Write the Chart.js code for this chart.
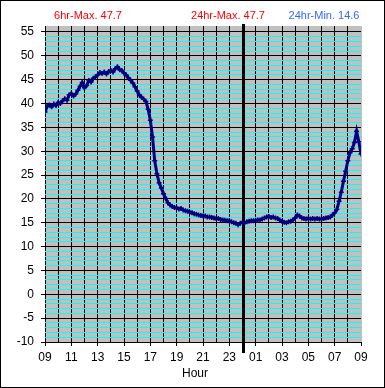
<!DOCTYPE html>
<html>
<head>
<meta charset="utf-8">
<script src="https://cdn.jsdelivr.net/npm/chart.js@4/dist/chart.umd.min.js"></script>
<style>
  html, body { margin: 0; padding: 0; background: #fff; }
  canvas { display: block; }
</style>
</head>
<body>
<canvas id="chart" width="385" height="388"></canvas>
<script>
// temperature readings every 10 minutes, 09:00 -> 09:00 next day
const stepMinutes = 10;
const readings = [
  38.2, 39.4, 39.7, 39.3, 39.9, 39.6, 40.2, 40.0, 40.6, 41.0, 40.7, 41.8,
  42.1, 41.6, 42.0, 42.8, 43.6, 44.4, 43.3, 43.8, 44.8, 44.5, 45.3, 45.6,
  46.0, 46.5, 46.3, 46.6, 46.2, 46.7, 46.9, 46.6, 47.3, 47.7, 47.1, 46.9,
  46.4, 46.0, 45.4, 44.9, 44.3, 43.5, 42.6, 41.8, 41.3, 40.9, 40.4, 38.8,
  36.5, 33.0, 28.0, 25.3, 23.4, 22.3, 21.1, 20.1, 19.2, 18.7, 18.4, 18.2,
  18.1, 17.9, 18.0, 17.7, 17.5, 17.4, 17.2, 17.1, 16.9, 16.8, 16.6, 16.5,
  16.4, 16.4, 16.2, 16.2, 16.1, 16.0, 15.9, 15.9, 15.7, 15.6, 15.5, 15.4,
  15.4, 15.2, 15.0, 14.9, 14.6, 14.9, 15.1, 15.0, 15.2, 15.3, 15.4, 15.4,
  15.5, 15.6, 15.6, 15.8, 16.0, 16.2, 16.3, 16.1, 16.2, 16.0, 15.9, 15.5,
  15.3, 15.1, 15.0, 15.2, 15.3, 15.6, 16.0, 16.6, 16.4, 16.0, 15.9, 15.8,
  15.9, 15.8, 15.9, 15.8, 15.9, 15.8, 15.8, 15.9, 16.0, 16.1, 16.2, 16.6,
  17.1, 17.8, 19.5, 21.4, 23.7, 25.8, 28.0, 29.7, 30.5, 31.8, 34.2, 32.0,
  29.4
];

// labels for every second hour on the x axis
const hourLabels = ['09', '11', '13', '15', '17', '19', '21', '23', '01', '03', '05', '07', '09'];
const midnightHour = 15;

const headerTexts = [
  { text: '6hr-Max. 47.7', color: '#ff0000', x: 88 },
  { text: '24hr-Max. 47.7', color: '#ff0000', x: 228 },
  { text: '24hr-Min. 14.6', color: '#3366ff', x: 324 }
];

const points = readings.map((v, i) => ({ x: i * stepMinutes / 60, y: v }));

// gray plot background, thick midnight line, header text and frame
const decorations = {
  id: 'decorations',
  beforeDraw(chart) {
    const { ctx, chartArea: a } = chart;
    ctx.save();
    ctx.fillStyle = '#c0c0c0';
    ctx.fillRect(a.left, a.top, a.right - a.left, a.bottom - a.top);
    ctx.restore();
  },
  beforeDatasetsDraw(chart) {
    const { ctx, chartArea: a, scales } = chart;
    const x = Math.round(scales.x.getPixelForValue(midnightHour));
    ctx.save();
    ctx.fillStyle = '#000';
    ctx.fillRect(x - 1, a.top - 2, 3, a.bottom - a.top + 13);
    ctx.restore();
  },
  afterDraw(chart) {
    const { ctx } = chart;
    ctx.save();
    ctx.font = '11px "Liberation Sans", Arial, sans-serif';
    ctx.textAlign = 'center';
    ctx.textBaseline = 'middle';
    headerTexts.forEach(h => {
      ctx.fillStyle = h.color;
      ctx.fillText(h.text, h.x, 16);
    });
    ctx.fillStyle = '#000';
    ctx.font = '12px "Liberation Sans", Arial, sans-serif';
    ctx.fillText('Hour', 195, 374);
    ctx.strokeStyle = '#000';
    ctx.lineWidth = 1;
    ctx.strokeRect(0.5, 0.5, chart.width - 1, chart.height - 1);
    ctx.restore();
  }
};

new Chart(document.getElementById('chart'), {
  type: 'line',
  data: {
    datasets: [{
      data: points,
      borderColor: '#000080',
      backgroundColor: '#000080',
      borderWidth: 3,
      pointStyle: 'cross',
      pointRadius: 2.5,
      pointBorderWidth: 1.5,
      tension: 0
    }]
  },
  options: {
    responsive: false,
    animation: false,
    layout: { padding: { top: 26, right: 24, left: 0, bottom: 0 } },
    plugins: { legend: { display: false }, tooltip: { enabled: false } },
    scales: {
      x: {
        type: 'linear',
        min: 0,
        max: 24,
        afterFit(scale) { scale.height = 46; },
        border: { display: false },
        grid: {
          color: ctx => ctx.tick && ctx.tick.value === 24 ? '#c0c0c0' : '#000',
          tickColor: ctx => ctx.tick && ctx.tick.value % 2 === 0 ? '#000' : 'rgba(0,0,0,0)',
          tickLength: 4,
          lineWidth: 1
        },
        ticks: {
          stepSize: 1,
          autoSkip: false,
          maxRotation: 0,
          padding: 4,
          color: '#000',
          font: { family: '"Liberation Sans", Arial, sans-serif', size: 12 },
          callback: v => v % 2 === 0 ? hourLabels[v / 2] : ''
        }
      },
      y: {
        min: -10,
        max: 56.25,
        afterFit(scale) { scale.width = 45; },
        afterBuildTicks(scale) {
          scale.ticks = scale.ticks.filter(t => Number.isInteger(t.value) && t.value <= 55);
        },
        border: { display: false },
        grid: {
          color: ctx => ctx.tick && ctx.tick.value % 5 === 0 ? '#000' : '#00ffff',
          tickColor: ctx => ctx.tick && ctx.tick.value % 5 === 0 ? '#000' : 'rgba(0,0,0,0)',
          tickLength: 4,
          lineWidth: 1
        },
        ticks: {
          stepSize: 1,
          autoSkip: false,
          padding: 7,
          color: '#000',
          font: { family: '"Liberation Sans", Arial, sans-serif', size: 12 },
          callback: v => v % 5 === 0 ? String(v) : ''
        }
      }
    }
  },
  plugins: [decorations]
});
</script>
</body>
</html>
